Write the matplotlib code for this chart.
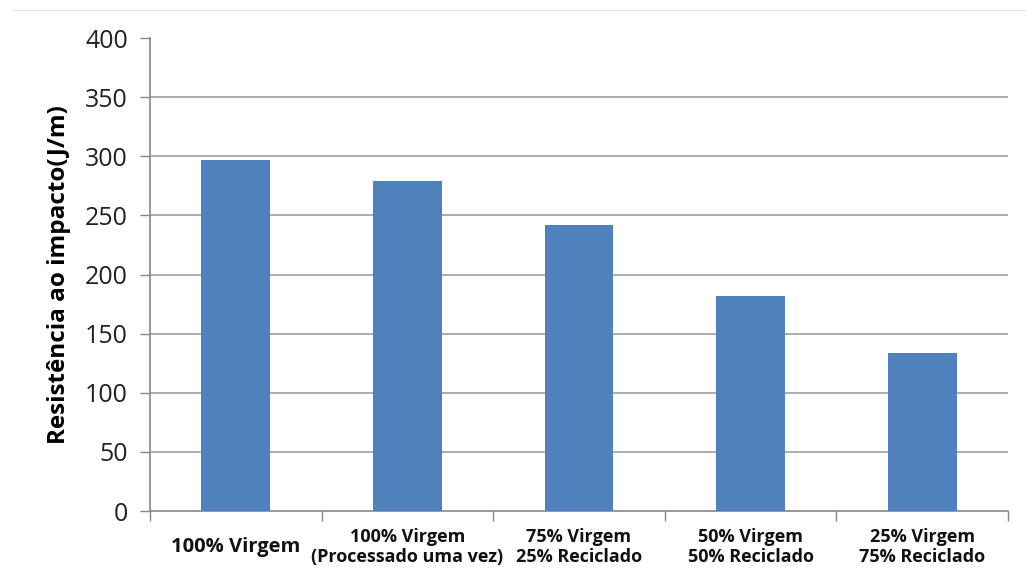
import matplotlib
matplotlib.use("Agg")
import matplotlib.pyplot as plt
from matplotlib.lines import Line2D
import numpy as np

# Dados
categorias = ["100% Virgem", "100% Virgem\n(Processado uma vez)", "75% Virgem\n25% Reciclado",
              "50% Virgem\n50% Reciclado", "25% Virgem\n75% Reciclado"]
resistencia = [297, 279, 242, 182, 134]
yticks = [0, 50, 100, 150, 200, 250, 300, 350, 400]

plt.rcParams['font.family'] = ['Open Sans', 'DejaVu Sans']

fig = plt.figure(figsize=(10.26, 5.69), dpi=100)
ax = fig.add_axes([0.1462, 0.1019, 0.8363, 0.8313])

x = np.arange(len(categorias))
ax.bar(x, resistencia, width=0.4, color='#4F81BD', zorder=3)

ax.set_xlim(-0.5, len(categorias) - 0.5)
ax.set_ylim(0, 400)
ax.set_yticks(yticks)
ax.set_yticklabels([str(v) for v in yticks], fontsize=18, color='#222222')

# linhas de grade (sem a de 400)
for v in yticks[1:-1]:
    ax.axhline(v, color='#A6A6A6', linewidth=1.3, zorder=1)

ax.set_xticks(x)
labels = ax.set_xticklabels(categorias, fontsize=13, fontweight='bold', color='#111111',
                            va='center', linespacing=1.15)
labels[0].set_fontsize(14.5)
ax.tick_params(axis='x', length=0, pad=26)
ax.set_xticks(np.arange(-0.5, len(categorias)), minor=True)
ax.tick_params(axis='x', which='minor', length=7, color='#868686', width=1)
ax.tick_params(axis='y', length=7, color='#868686', width=1, pad=9)

for s in ['top', 'right']:
    ax.spines[s].set_visible(False)
ax.spines['left'].set_color('#868686')
ax.spines['bottom'].set_color('#868686')
ax.spines['left'].set_linewidth(1.2)
ax.spines['bottom'].set_linewidth(1.2)

ax.set_ylabel("Resistência ao impacto(J/m)", fontsize=17.5, fontweight='bold', labelpad=10)

# linha fina no topo da imagem
fig.add_artist(Line2D([0.012, 1.0], [0.982, 0.982], color='#E6E6E6', linewidth=1))

fig.savefig("out.png", dpi=100)
